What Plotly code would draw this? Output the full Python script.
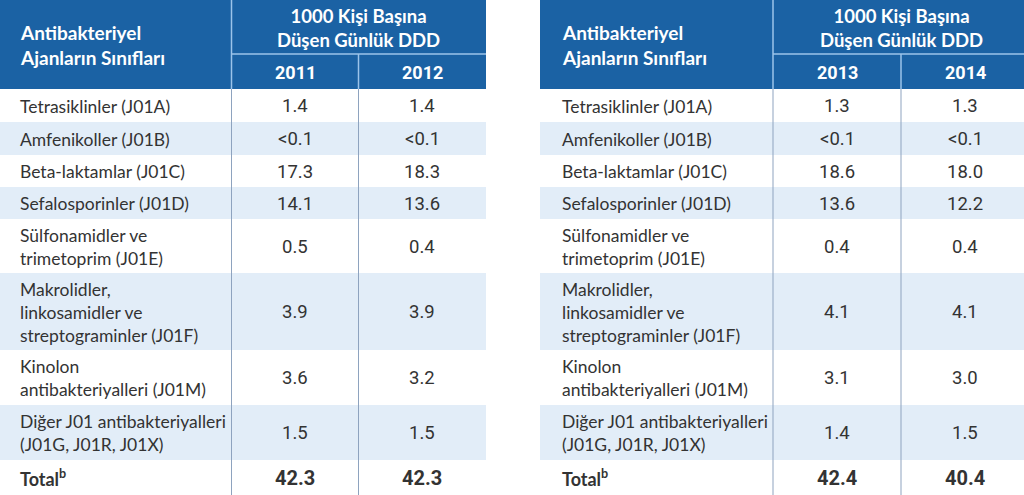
import plotly.graph_objects as go

# ---------------- data ----------------
header_label = "Antibakteriyel<br>Ajanların Sınıfları"
header_group = "1000 Kişi Başına<br>Düşen Günlük DDD"
years_left = ["2011", "2012"]
years_right = ["2013", "2014"]

categories = [
    "Tetrasiklinler (J01A)",
    "Amfenikoller (J01B)",
    "Beta-laktamlar (J01C)",
    "Sefalosporinler (J01D)",
    "Sülfonamidler ve<br>trimetoprim (J01E)",
    "Makrolidler,<br>linkosamidler ve<br>streptograminler (J01F)",
    "Kinolon<br>antibakteriyalleri (J01M)",
    "Diğer J01 antibakteriyalleri<br>(J01G, J01R, J01X)",
]
total_label = "Total<sup>b</sup>"

values_2011 = ["1.4", "&lt;0.1", "17.3", "14.1", "0.5", "3.9", "3.6", "1.5"]
values_2012 = ["1.4", "&lt;0.1", "18.3", "13.6", "0.4", "3.9", "3.2", "1.5"]
values_2013 = ["1.3", "&lt;0.1", "18.6", "13.6", "0.4", "4.1", "3.1", "1.4"]
values_2014 = ["1.3", "&lt;0.1", "18.0", "12.2", "0.4", "4.1", "3.0", "1.5"]
totals = {"2011": "42.3", "2012": "42.3", "2013": "42.4", "2014": "40.4"}

# ---------------- style / layout ----------------
W, H = 1024, 495
HEADER_BLUE = "#1b62a4"
ROW_BLUE = "#e2edf8"
TEXT = "#333333"
BODY_LINE = "#8ea3bf"
HEAD_LINE = "#9cc4ea"
LABEL_FONT = "Lato"
NUM_FONT = "Roboto"

HEADER_H = 89
SUB_Y = 54
row_heights = [33, 33, 32, 32, 54, 77, 55, 55, 35]

tables = [
    dict(x0=-2, c1=231.5, c2=358.5, x1=486, years=years_left,
         vals=[values_2011, values_2012]),
    dict(x0=540, c1=773, c2=901, x1=1029, years=years_right,
         vals=[values_2013, values_2014]),
]

shapes = []
annotations = []

def rect(x0, y0, x1, y1, color):
    shapes.append(dict(type="rect", xref="x", yref="y", x0=x0, x1=x1, y0=y0, y1=y1,
                       fillcolor=color, line=dict(width=0), layer="below"))

def line(x0, y0, x1, y1, color, w=1):
    shapes.append(dict(type="line", xref="x", yref="y", x0=x0, x1=x1, y0=y0, y1=y1,
                       line=dict(color=color, width=w), layer="above"))

def text(x, y, s, size, color, family, anchor="left", bold=False):
    if bold:
        s = "<b>" + s.replace("<br>", "</b><br><b>") + "</b>"
    annotations.append(dict(x=x, y=y, xref="x", yref="y", text=s, showarrow=False,
                            xanchor=anchor, yanchor="middle", align=anchor,
                            font=dict(size=size, color=color, family=family)))

for t in tables:
    x0, c1, c2, x1 = t["x0"], t["c1"], t["c2"], t["x1"]
    cw = c2 - c1
    col_centers = [c1 + cw / 2, c2 + cw / 2]
    # header
    rect(x0, 0, x1, HEADER_H, HEADER_BLUE)
    line(c1, 0, c1, HEADER_H, HEAD_LINE, 1.5)
    line(c1, SUB_Y, x1, SUB_Y, HEAD_LINE, 1.5)
    line(c2, SUB_Y, c2, HEADER_H, HEAD_LINE, 1.5)
    text(x0 + 20, 45, header_label, 19, "white", LABEL_FONT, "left", bold=True)
    text(c1 + cw, 28, header_group, 18.5, "white", LABEL_FONT, "center", bold=True)
    for j, cx in enumerate(col_centers):
        text(cx, 72, t["years"][j], 18, "white", NUM_FONT, "center", bold=True)
    # body
    y = HEADER_H
    labels = categories + [total_label]
    for i, h in enumerate(row_heights):
        if i % 2 == 1:
            rect(x0, y, x1, y + h, ROW_BLUE)
        ym = y + h / 2
        is_total = i == len(categories)
        text(x0 + 20, ym + 0.5, labels[i], 18 if is_total else 17.5, TEXT, LABEL_FONT,
             "left", bold=is_total)
        for j, cx in enumerate(col_centers):
            v = totals[t["years"][j]] if is_total else t["vals"][j][i]
            text(cx, ym + 0.5, v, 20 if is_total else 18.5, TEXT, NUM_FONT, "center",
                 bold=is_total)
        y += h
    line(c1, HEADER_H, c1, H, BODY_LINE, 1)
    line(c2, HEADER_H, c2, H, BODY_LINE, 1)

fig = go.Figure()
fig.update_layout(
    width=W, height=H,
    margin=dict(l=0, r=0, t=0, b=0),
    paper_bgcolor="white", plot_bgcolor="white",
    xaxis=dict(range=[0, W], visible=False, fixedrange=True),
    yaxis=dict(range=[H, 0], visible=False, fixedrange=True),
    shapes=shapes, annotations=annotations, showlegend=False,
)
fig.write_html("out.html", config={"displayModeBar": False},
               post_script="document.body.style.margin='0';document.body.style.overflow='hidden';")
